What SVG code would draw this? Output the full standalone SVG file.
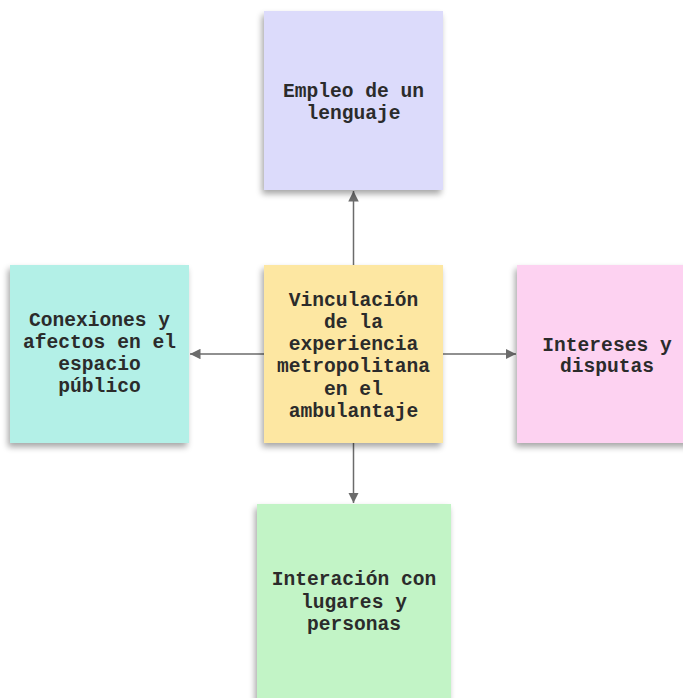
<svg xmlns="http://www.w3.org/2000/svg" width="683" height="698" viewBox="0 0 683 698">
  <style>
    .note { filter: url(#shadow); }
    .label { font-family: "Liberation Mono", "DejaVu Sans Mono", monospace; font-weight: bold; font-size: 19.6px; text-anchor: middle; fill: #2b2b2b; }
    .edge { stroke: #6b6b6b; stroke-width: 1.5; fill: none; marker-end: url(#arrow); }
  </style>
  <defs>
    <filter id="shadow" x="-20%" y="-20%" width="140%" height="140%">
      <feGaussianBlur in="SourceAlpha" stdDeviation="3"/>
      <feOffset dx="-2" dy="4" result="b"/>
      <feComponentTransfer><feFuncA type="linear" slope="0.35"/></feComponentTransfer>
      <feMerge><feMergeNode/><feMergeNode in="SourceGraphic"/></feMerge>
    </filter>
    <marker id="arrow" viewBox="0 0 10 10" refX="10" refY="5" markerWidth="7" markerHeight="7" markerUnits="strokeWidth" orient="auto">
      <path d="M0,0 L10,5 L0,10 z" fill="#6b6b6b"/>
    </marker>
  </defs>

  <rect width="683" height="698" fill="#ffffff"/>

  <g id="connectors">
    <line class="edge" x1="353.5" y1="265" x2="353.5" y2="191"/>
    <line class="edge" x1="264" y1="354" x2="190" y2="354"/>
    <line class="edge" x1="443" y1="354" x2="516" y2="354"/>
    <line class="edge" x1="353.5" y1="443" x2="353.5" y2="503"/>
  </g>

  <g id="node-lenguaje">
    <rect class="note" x="264" y="11" width="179" height="179" fill="#dcdbfb"/>
    <text class="label" x="353.5" y="97">Empleo de un</text>
    <text class="label" x="353.5" y="119">lenguaje</text>
  </g>

  <g id="node-vinculacion">
    <rect class="note" x="264" y="265" width="179" height="178" fill="#fde7a2"/>
    <text class="label" x="353.5" y="305.5">Vinculación</text>
    <text class="label" x="353.5" y="327.8">de la</text>
    <text class="label" x="353.5" y="350.1">experiencia</text>
    <text class="label" x="353.5" y="372.4">metropolitana</text>
    <text class="label" x="353.5" y="394.7">en el</text>
    <text class="label" x="353.5" y="417">ambulantaje</text>
  </g>

  <g id="node-conexiones">
    <rect class="note" x="10" y="265" width="179" height="178" fill="#b3f0e7"/>
    <text class="label" x="99.5" y="325.5">Conexiones y</text>
    <text class="label" x="99.5" y="347.7">afectos en el</text>
    <text class="label" x="99.5" y="369.9">espacio</text>
    <text class="label" x="99.5" y="392">público</text>
  </g>

  <g id="node-intereses">
    <rect class="note" x="517" y="265" width="179" height="178" fill="#fdd2f1"/>
    <text class="label" x="607" y="350.5">Intereses y</text>
    <text class="label" x="607" y="372">disputas</text>
  </g>

  <g id="node-interacion">
    <rect class="note" x="257" y="504" width="194" height="200" fill="#c2f4c6"/>
    <text class="label" x="354" y="585">Interación con</text>
    <text class="label" x="354" y="607.5">lugares y</text>
    <text class="label" x="354" y="630">personas</text>
  </g>
</svg>
